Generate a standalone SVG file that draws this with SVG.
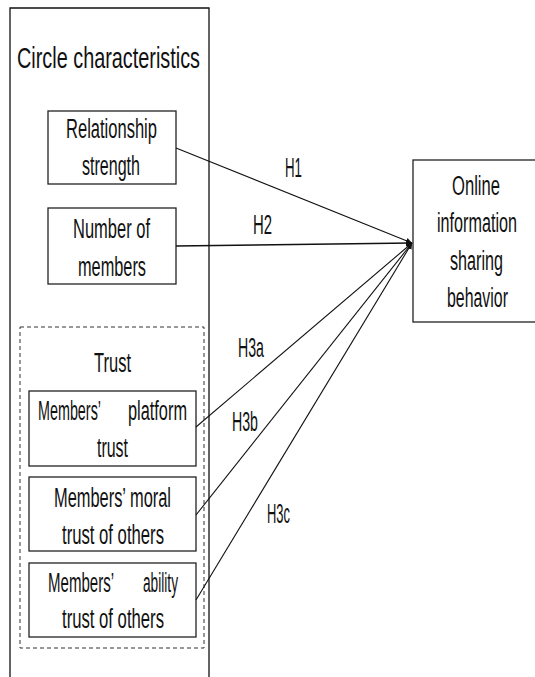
<svg xmlns="http://www.w3.org/2000/svg" width="535" height="677" viewBox="0 0 535 677">
<defs>
<style>
text{font-family:"Liberation Sans",Arial,sans-serif;fill:#111;}
.t{font-size:28px;}
.h{font-size:27px;}
.box{fill:#fff;stroke:#222;stroke-width:1.3;}
.ln{stroke:#111;stroke-width:1.1;fill:none;marker-end:url(#ah);}
</style>
<marker id="ah" viewBox="0 0 10 10" refX="10" refY="5" markerWidth="6" markerHeight="6" markerUnits="userSpaceOnUse" orient="auto">
<path d="M0,0 L10,5 L0,10 z" fill="#111"/>
</marker>
</defs>
<rect width="535" height="677" fill="#fff"/>
<g id="circle-characteristics">
<path d="M10,677 V8 H209 V677" fill="none" stroke="#111" stroke-width="1.3"/>
<g transform="scale(0.62,1)"><text class="t" x="27.42" y="68" textLength="295.16" lengthAdjust="spacingAndGlyphs" style="font-size:30px">Circle characteristics</text></g>
</g>
<g id="relationship-strength">
<rect class="box" x="48" y="111" width="128" height="73"/>
<g transform="scale(0.62,1)">
<text class="t" x="106.45" y="138" textLength="146.77" lengthAdjust="spacingAndGlyphs">Relationship</text>
<text class="t" x="132.26" y="175" textLength="93.55" lengthAdjust="spacingAndGlyphs">strength</text>
</g>
</g>
<g id="number-of-members">
<rect class="box" x="48" y="208" width="128" height="76"/>
<g transform="scale(0.62,1)">
<text class="t" x="117.74" y="238" textLength="124.19" lengthAdjust="spacingAndGlyphs">Number of</text>
<text class="t" x="125.81" y="276" textLength="109.68" lengthAdjust="spacingAndGlyphs">members</text>
</g>
</g>
<g id="trust">
<rect x="20" y="327" width="184" height="321" fill="none" stroke="#333" stroke-width="1" stroke-dasharray="4,3"/>
<g transform="scale(0.62,1)"><text class="t" x="151.61" y="372" textLength="59.68" lengthAdjust="spacingAndGlyphs">Trust</text></g>
</g>
<g id="platform-trust">
<rect class="box" x="29" y="391" width="167" height="75"/>
<g transform="scale(0.62,1)">
<text class="t" x="61.29" y="420" textLength="101.61" lengthAdjust="spacingAndGlyphs">Members’</text>
<text class="t" x="206.45" y="420" textLength="95.16" lengthAdjust="spacingAndGlyphs">platform</text>
<text class="t" x="156.45" y="457" textLength="50" lengthAdjust="spacingAndGlyphs">trust</text>
</g>
</g>
<g id="moral-trust">
<rect class="box" x="29" y="477" width="167" height="74"/>
<g transform="scale(0.62,1)">
<text class="t" x="87.10" y="507" textLength="188.71" lengthAdjust="spacingAndGlyphs">Members’ moral</text>
<text class="t" x="100" y="544" textLength="164.52" lengthAdjust="spacingAndGlyphs">trust of others</text>
</g>
</g>
<g id="ability-trust">
<rect class="box" x="29" y="563" width="167" height="74"/>
<g transform="scale(0.62,1)">
<text class="t" x="77.42" y="592" textLength="106.45" lengthAdjust="spacingAndGlyphs">Members’</text>
<text class="t" x="230.65" y="592" textLength="56.45" lengthAdjust="spacingAndGlyphs">ability</text>
<text class="t" x="100" y="628" textLength="164.52" lengthAdjust="spacingAndGlyphs">trust of others</text>
</g>
</g>
<g id="online-sharing">
<rect class="box" x="413" y="160" width="130" height="162"/>
<g transform="scale(0.62,1)">
<text class="t" x="729.03" y="195" textLength="77.42" lengthAdjust="spacingAndGlyphs">Online</text>
<text class="t" x="704.84" y="232" textLength="129.03" lengthAdjust="spacingAndGlyphs">information</text>
<text class="t" x="725.81" y="270" textLength="85.48" lengthAdjust="spacingAndGlyphs">sharing</text>
<text class="t" x="720.97" y="307" textLength="98.39" lengthAdjust="spacingAndGlyphs">behavior</text>
</g>
</g>
<g id="connectors">
<line class="ln" x1="176" y1="148" x2="412" y2="243"/>
<line class="ln" x1="176" y1="246" x2="412" y2="243" style="stroke-width:1.5"/>
<line class="ln" x1="196" y1="427" x2="412" y2="243"/>
<line class="ln" x1="196" y1="515" x2="412" y2="243"/>
<line class="ln" x1="196" y1="600" x2="412" y2="243"/>
<g transform="scale(0.5,1)">
<text class="h" x="570" y="177" textLength="34" lengthAdjust="spacingAndGlyphs">H1</text>
<text class="h" x="506" y="234" textLength="38" lengthAdjust="spacingAndGlyphs">H2</text>
<text class="h" x="476" y="357" textLength="52" lengthAdjust="spacingAndGlyphs">H3a</text>
<text class="h" x="464" y="431" textLength="52" lengthAdjust="spacingAndGlyphs">H3b</text>
<text class="h" x="534" y="523" textLength="46" lengthAdjust="spacingAndGlyphs">H3c</text>
</g>
</g>
</svg>
